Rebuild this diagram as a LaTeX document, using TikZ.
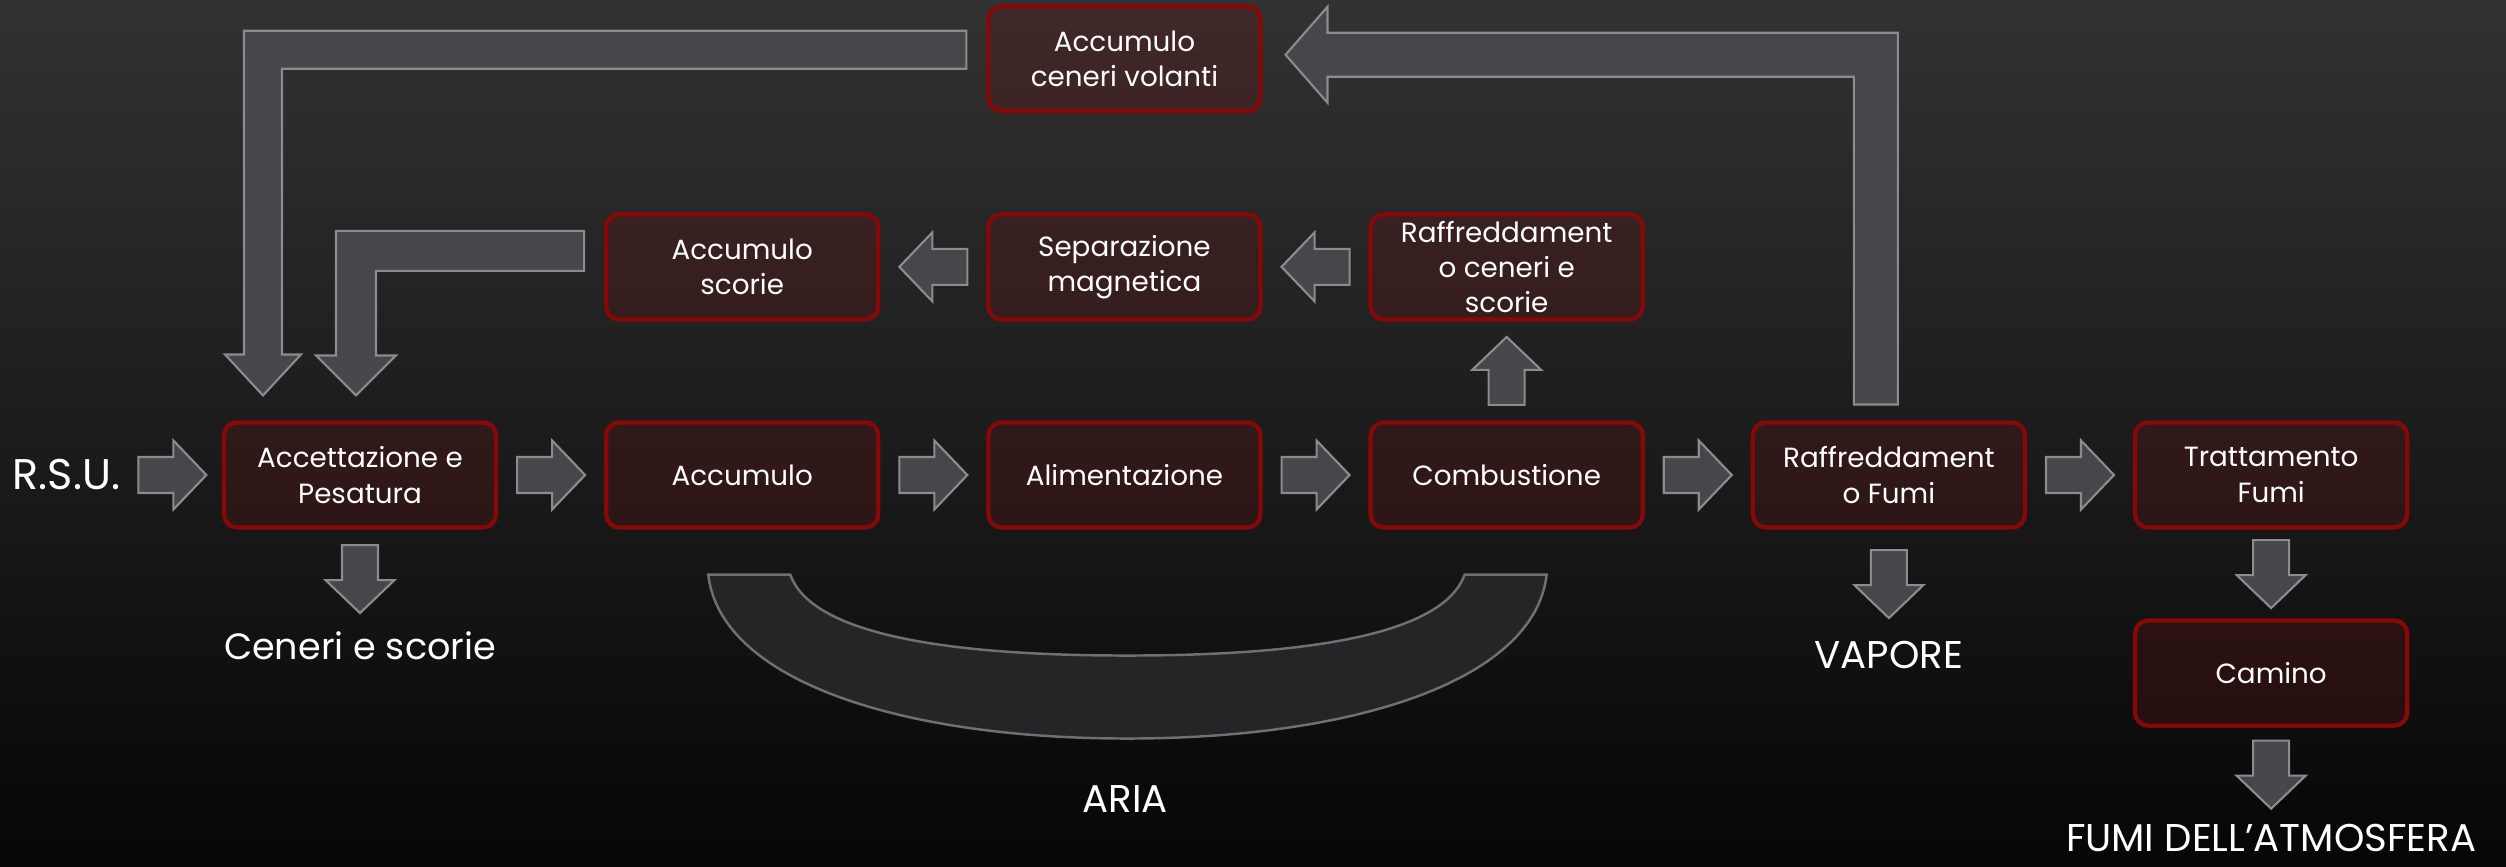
\documentclass[tikz,border=0pt]{standalone}
\usepackage{fontspec}
\setmainfont{Poppins}
\usetikzlibrary{positioning, calc}

\definecolor{bgtop}{RGB}{50,50,50}
\definecolor{bgbot}{RGB}{6,6,6}
\definecolor{boxred}{RGB}{135,8,8}
\definecolor{boxfill}{RGB}{100,20,20}
\definecolor{arrfill}{RGB}{70,71,74}
\definecolor{arredge}{RGB}{138,140,144}
\definecolor{bandfill}{RGB}{37,37,39}

% straight block arrow: #1 centre, #2 angle
\newcommand{\flowarrow}[2]{%
  \fill[fatarrow, shift={#1}, rotate=#2] (-34,-18) -- (1,-18) -- (1,-34.5) -- (34,0)
    -- (1,34.5) -- (1,18) -- (-34,18) -- cycle;}

\begin{document}
\begin{tikzpicture}[
  x=0.01cm, y=-0.01cm,
  proc/.style={draw=boxred, line width=1.2pt, rounded corners=0.13cm,
    fill=boxfill, fill opacity=0.3, text opacity=1, text=white,
    minimum width=2.72cm, minimum height=1.05cm, inner sep=1pt, outer sep=0pt,
    align=center, font=\fontsize{7.9}{10}\selectfont},
  lab/.style={text=white, inner sep=0pt, font=\fontsize{11}{13}\selectfont},
  fatarrow/.style={fill=arrfill, draw=arredge, line width=0.6pt, line join=miter},
  band/.style={fill=bandfill, draw=arredge!80!black, line width=0.7pt}
]
\useasboundingbox (0,0) rectangle (2506,867);
\shade[top color=bgtop, bottom color=bgbot] (0,0) rectangle (2506,867);

% main line
\node[proc] (acc) at (360,475) {Accettazione e\\Pesatura};
\node[proc, right=1.1cm of acc] (accum) {Accumulo};
\node[proc, right=1.1cm of accum] (alim) {Alimentazione};
\node[proc, right=1.1cm of alim] (comb) {Combustione};
\node[proc, right=1.1cm of comb] (raffF) {Raffreddament\\o Fumi};
\node[proc, right=1.1cm of raffF] (tratt) {Trattamento\\Fumi};
\node[proc, below=0.93cm of tratt] (camino) {Camino};

% slag line
\node[proc, above=1.03cm of comb] (raffC) {Raffreddament\\o ceneri e\\scorie};
\node[proc, above=1.03cm of alim] (sep) {Separazione\\magnetica};
\node[proc, above=1.03cm of accum] (scorie) {Accumulo\\scorie};
\node[proc, above=1.03cm of sep] (volanti) {Accumulo\\ceneri volanti};

% labels
\node[lab, font=\fontsize{12.2}{14}\selectfont, left=1.03cm of acc] (rsu) {R.S.U.};
\node[lab, font=\fontsize{10.4}{12}\selectfont, below=1.03cm of acc] (ceneri) {Ceneri e scorie};
\node[lab, below=1.13cm of raffF] (vapore) {VAPORE};
\node[lab, below=0.98cm of camino] (fumi) {FUMI DELL’ATMOSFERA};
\node[lab, anchor=base] (aria) at (1125,812) {ARIA};

\flowarrow{($(rsu.east)!0.5!(acc.west)$)}{0}
\flowarrow{($(acc.east)!0.5!(accum.west)$)}{0}
\flowarrow{($(accum.east)!0.5!(alim.west)$)}{0}
\flowarrow{($(alim.east)!0.5!(comb.west)$)}{0}
\flowarrow{($(comb.east)!0.5!(raffF.west)$)}{0}
\flowarrow{($(raffF.east)!0.5!(tratt.west)$)}{0}
\flowarrow{($(comb.north)!0.5!(raffC.south)$)}{90}
\flowarrow{($(raffC.west)!0.5!(sep.east)$)}{180}
\flowarrow{($(sep.west)!0.5!(scorie.east)$)}{180}
\flowarrow{($(acc.south)!0.5!(ceneri.north)$)}{-90}
\flowarrow{($(raffF.south)!0.5!(vapore.north)$)}{-90}
\flowarrow{($(tratt.south)!0.5!(camino.north)$)}{-90}
\flowarrow{($(camino.south)!0.5!(fumi.north)$)}{-90}

% fly ash loop
\coordinate (loopA) at ($(raffF.north)+(-13,-18)$);
\coordinate (loopT) at ($(volanti.east)+(25,-4)$);
\coordinate (loopC) at (loopA |- loopT);
\fill[fatarrow] ($(loopA)+(-22,0)$) -- ($(loopC)+(-22,22)$) -- ($(loopT)+(42,22)$)
  -- ($(loopT)+(42,48)$) -- (loopT) -- ($(loopT)+(42,-48)$) -- ($(loopT)+(42,-22)$)
  -- ($(loopC)+(22,-22)$) -- ($(loopA)+(22,0)$) -- cycle;

% ash back to the weighing
\coordinate (ashS) at ($(volanti.west)+(-22,-9)$);
\coordinate (ashT) at ($(acc.north)+(-97,-27)$);
\coordinate (ashC) at (ashT |- ashS);
\fill[fatarrow] ($(ashS)+(0,-19)$) -- ($(ashC)+(-19,-19)$) -- ($(ashT)+(-19,-41)$)
  -- ($(ashT)+(-38,-41)$) -- (ashT) -- ($(ashT)+(38,-41)$) -- ($(ashT)+(19,-41)$)
  -- ($(ashC)+(19,19)$) -- ($(ashS)+(0,19)$) -- cycle;

% slag back to the weighing
\coordinate (slagS) at ($(scorie.west)+(-22,-16)$);
\coordinate (slagT) at ($(acc.north)+(-4,-27)$);
\coordinate (slagC) at (slagT |- slagS);
\fill[fatarrow] ($(slagS)+(0,-20)$) -- ($(slagC)+(-20,-20)$) -- ($(slagT)+(-20,-40)$)
  -- ($(slagT)+(-40,-40)$) -- (slagT) -- ($(slagT)+(40,-40)$) -- ($(slagT)+(20,-40)$)
  -- ($(slagC)+(20,20)$) -- ($(slagS)+(0,20)$) -- cycle;

% air band
\coordinate (airL) at ($(accum.south)+(-34,47)$);
\coordinate (airR) at ($(comb.south)+(40,47)$);
\coordinate (airB) at ($(airL)!0.5!(airR)+(0,164)$);
\coordinate (airBi) at ($(airL)!0.5!(airR)+(0,81)$);
\fill[band] (airL) .. controls +(12,106) and +(-227,0) .. (airB)
  .. controls +(227,0) and +(-12,106) .. (airR) -- ++(-82,0)
  .. controls +(-20,56) and +(197,0) .. (airBi)
  .. controls +(-197,0) and +(20,56) .. ($(airL)+(82,0)$) -- cycle;
\end{tikzpicture}
\end{document}
